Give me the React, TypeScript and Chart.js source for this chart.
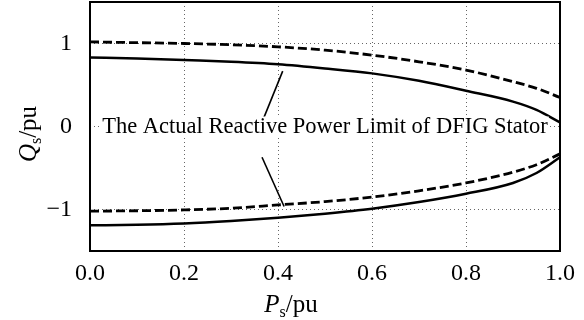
import React, { useEffect, useRef } from "react";
import { Chart, registerables } from "chart.js";

Chart.register(...registerables);

const P = [0, 0.1, 0.2, 0.3, 0.4, 0.5, 0.6, 0.7, 0.8, 0.9, 0.95, 1.0];
const upperSolid = [0.83, 0.82, 0.8, 0.78, 0.75, 0.7, 0.64, 0.55, 0.43, 0.3, 0.2, 0.05];
const lowerSolid = [-1.19, -1.185, -1.17, -1.14, -1.1, -1.05, -0.99, -0.91, -0.81, -0.68, -0.56, -0.37];
const upperDashed = [1.02, 1.01, 1.0, 0.985, 0.96, 0.92, 0.86, 0.78, 0.68, 0.54, 0.46, 0.35];
const lowerDashed = [-1.02, -1.015, -1.005, -0.985, -0.945, -0.905, -0.85, -0.775, -0.68, -0.55, -0.46, -0.33];

const xTicks = [0, 0.2, 0.4, 0.6, 0.8, 1.0];
const yTicks = [-1, 0, 1];

const annotationText = "The Actual Reactive Power Limit of DFIG Stator";
const annotationPos = { x: 0.5, y: 0 };
const leaderLines = [
  { x1: 0.37, y1: 0.107, x2: 0.41, y2: 0.667 },
  { x1: 0.366, y1: -0.37, x2: 0.413, y2: -0.964 },
];

const SERIF = '"Liberation Serif", "Times New Roman", serif';

function pts(ys: number[]) {
  return P.map((x, i) => ({ x, y: ys[i] }));
}

function drawSubTitle(ctx: CanvasRenderingContext2D, main: string, sub: string, rest: string) {
  const big = `25px ${SERIF}`;
  const bigItalic = `italic 25px ${SERIF}`;
  const small = `16px ${SERIF}`;
  ctx.font = bigItalic;
  const w1 = ctx.measureText(main).width;
  ctx.font = small;
  const w2 = ctx.measureText(sub).width;
  ctx.font = big;
  const w3 = ctx.measureText(rest).width;
  const total = w1 + w2 + w3;
  let x = -total / 2;
  ctx.textBaseline = "alphabetic";
  ctx.textAlign = "left";
  ctx.font = bigItalic;
  ctx.fillText(main, x, 0);
  x += w1;
  ctx.font = small;
  ctx.fillText(sub, x, 5);
  x += w2;
  ctx.font = big;
  ctx.fillText(rest, x, 0);
}

const customPlugin = {
  id: "custom",
  afterDatasetsDraw(chart: any) {
    const ctx: CanvasRenderingContext2D = chart.ctx;
    const xs = chart.scales.x;
    const ys = chart.scales.y;
    const area = chart.chartArea;
    ctx.save();
    // leader lines
    ctx.strokeStyle = "#000";
    ctx.lineWidth = 1.6;
    leaderLines.forEach((l) => {
      ctx.beginPath();
      ctx.moveTo(xs.getPixelForValue(l.x1), ys.getPixelForValue(l.y1));
      ctx.lineTo(xs.getPixelForValue(l.x2), ys.getPixelForValue(l.y2));
      ctx.stroke();
    });
    // annotation text
    ctx.font = `22.5px ${SERIF}`;
    const tw = ctx.measureText(annotationText).width;
    const cx = xs.getPixelForValue(annotationPos.x);
    const cy = ys.getPixelForValue(annotationPos.y);
    ctx.fillStyle = "#fff";
    ctx.fillRect(cx - tw / 2 - 1, cy - 10, tw + 2, 20);
    ctx.fillStyle = "#000";
    ctx.textAlign = "center";
    ctx.textBaseline = "middle";
    ctx.fillText(annotationText, cx, cy + 1);
    // border
    ctx.strokeStyle = "#000";
    ctx.lineWidth = 2;
    ctx.strokeRect(area.left, area.top, area.right - area.left, area.bottom - area.top);
    ctx.restore();

    // axis titles
    ctx.save();
    ctx.fillStyle = "#000";
    ctx.translate(291, 312);
    drawSubTitle(ctx, "P", "s", "/pu");
    ctx.restore();

    ctx.save();
    ctx.fillStyle = "#000";
    ctx.translate(36, 134);
    ctx.rotate(-Math.PI / 2);
    drawSubTitle(ctx, "Q", "s", "/pu");
    ctx.restore();
  },
};

export default function App() {
  const ref = useRef<HTMLCanvasElement>(null);
  useEffect(() => {
    document.body.style.margin = "0";
    const canvas = ref.current!;
    const lineBase = {
      borderColor: "#000",
      borderWidth: 2.5,
      pointRadius: 0,
      fill: false,
      cubicInterpolationMode: "monotone" as const,
    };
    const chart = new Chart(canvas, {
      type: "line",
      data: {
        datasets: [
          { ...lineBase, label: "upper solid", data: pts(upperSolid) },
          { ...lineBase, label: "lower solid", data: pts(lowerSolid) },
          { ...lineBase, label: "upper dashed", data: pts(upperDashed), borderDash: [9, 4], borderWidth: 2.8 },
          { ...lineBase, label: "lower dashed", data: pts(lowerDashed), borderDash: [9, 4], borderWidth: 2.8 },
        ],
      },
      options: {
        animation: false,
        responsive: false,
        maintainAspectRatio: false,
        layout: { padding: { left: 0, right: 24, top: 2, bottom: 0 } },
        plugins: { legend: { display: false }, tooltip: { enabled: false } },
        scales: {
          x: {
            type: "linear",
            min: 0,
            max: 1,
            afterBuildTicks: (s: any) => {
              s.ticks = xTicks.map((v) => ({ value: v }));
            },
            afterFit: (s: any) => {
              s.height = 69;
              s.paddingLeft = 0;
              s.paddingRight = 0;
              s.paddingTop = 0;
              s.paddingBottom = 0;
            },
            grid: { color: "#666", lineWidth: 1, drawTicks: false },
            border: { display: false, dash: [1, 3] },
            ticks: {
              padding: 8,
              color: "#000",
              font: { family: SERIF, size: 24 },
              callback: (v: any) => Number(v).toFixed(1),
              maxRotation: 0,
              autoSkip: false,
            },
          },
          y: {
            type: "linear",
            min: -1.5,
            max: 1.5,
            afterBuildTicks: (s: any) => {
              s.ticks = yTicks.map((v) => ({ value: v }));
            },
            afterFit: (s: any) => {
              s.width = 90;
              s.paddingLeft = 0;
              s.paddingRight = 0;
              s.paddingTop = 0;
              s.paddingBottom = 0;
            },
            grid: { color: "#666", lineWidth: 1, drawTicks: false },
            border: { display: false, dash: [1, 3] },
            ticks: {
              padding: 18,
              color: "#000",
              font: { family: SERIF, size: 24 },
              callback: (v: any) => (v < 0 ? "\u2212" + Math.abs(v) : String(v)),
              autoSkip: false,
            },
          },
        },
      },
      plugins: [customPlugin],
    });
    return () => chart.destroy();
  }, []);
  return <canvas ref={ref} width={584} height={320} style={{ display: "block", width: 584, height: 320 }} />;
}
